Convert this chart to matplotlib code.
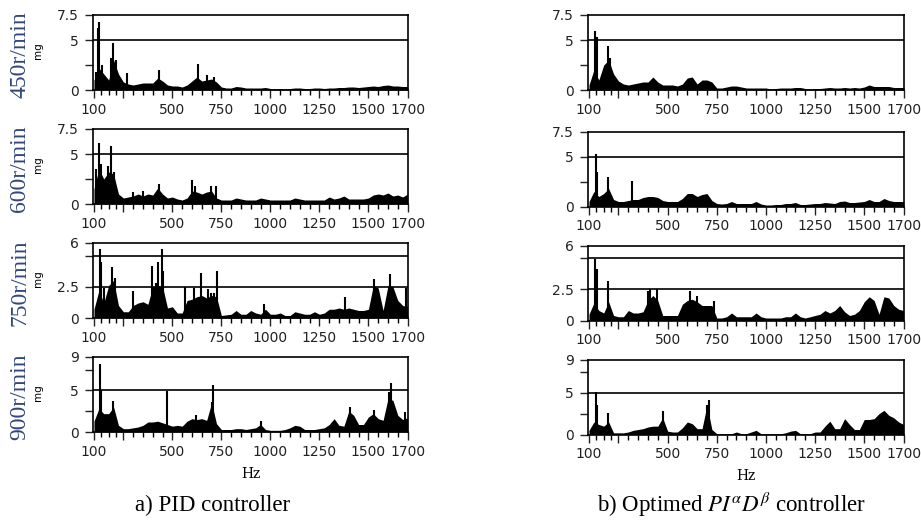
import numpy as np
import matplotlib
matplotlib.use("Agg")
import matplotlib.pyplot as plt

plt.rcParams["mathtext.fontset"] = "stix"
plt.rcParams["font.family"] = "DejaVu Sans"

# envelope of each spectrum, sampled every 25 Hz from 100 to 1700 Hz
freqs = np.arange(100, 1701, 25)

# a) PID controller
pid_450 = [1.0, 2.2, 1.6, 1.0, 3.0, 1.6, 0.8, 0.6, 0.5, 0.6, 0.7, 0.7, 0.7,
           1.2, 0.9, 0.5, 0.4, 0.4, 0.3, 0.5, 0.9, 1.3, 0.9, 1.0, 1.1, 0.8,
           0.3, 0.2, 0.2, 0.35, 0.3, 0.2, 0.2, 0.2, 0.2, 0.25, 0.15, 0.1, 0.15,
           0.1, 0.15, 0.2, 0.2, 0.15, 0.15, 0.2, 0.2, 0.15, 0.2, 0.2, 0.25, 0.25,
           0.3, 0.3, 0.25, 0.3, 0.35, 0.4, 0.35, 0.45, 0.5, 0.4, 0.4, 0.35, 0.35]
pid_450_spk_f = [112, 120, 128, 140, 185, 197, 210, 270, 433, 630, 678, 711]
pid_450_spk_v = [1.8, 6.2, 6.8, 2.5, 3.2, 4.7, 3.0, 1.7, 2.0, 2.6, 1.5, 1.3]

pid_600 = [1.5, 3.5, 2.5, 3.2, 3.0, 1.0, 0.6, 0.7, 0.8, 1.0, 0.8, 1.0, 0.9,
           1.6, 1.0, 0.6, 0.7, 0.5, 0.4, 0.6, 1.3, 1.2, 1.0, 1.2, 1.3, 0.6,
           0.4, 0.4, 0.4, 0.6, 0.5, 0.4, 0.4, 0.4, 0.6, 0.5, 0.4, 0.4, 0.4,
           0.4, 0.4, 0.6, 0.5, 0.4, 0.4, 0.4, 0.4, 0.4, 0.7, 0.5, 0.6, 0.8,
           0.5, 0.5, 0.5, 0.5, 0.6, 0.9, 1.0, 0.9, 1.1, 0.8, 0.9, 0.7, 1.0]
pid_600_spk_f = [110, 124, 135, 170, 185, 200, 300, 350, 434, 600, 615, 698, 720]
pid_600_spk_v = [3.5, 6.1, 4.0, 3.8, 5.8, 3.2, 1.2, 1.3, 2.0, 2.4, 1.8, 1.8, 1.8]

pid_750 = [0.7, 2.2, 1.2, 2.6, 3.0, 1.0, 0.5, 0.5, 1.0, 1.2, 1.3, 1.1, 2.5,
           2.6, 2.5, 0.8, 0.9, 0.4, 0.4, 1.4, 1.5, 1.7, 1.8, 1.6, 1.8, 1.7,
           0.2, 0.25, 0.3, 0.6, 0.3, 0.3, 0.6, 0.4, 0.3, 0.7, 0.3, 0.3, 0.4,
           0.2, 0.2, 0.5, 0.4, 0.3, 0.3, 0.5, 0.3, 0.4, 0.7, 0.7, 0.8, 0.7,
           0.8, 0.7, 0.6, 0.6, 0.7, 2.6, 2.4, 0.6, 2.6, 2.5, 1.4, 1.0, 0.9]
pid_750_spk_f = [131, 137, 151, 193, 205, 300, 397, 414, 428, 447, 453, 564,
                 610, 647, 681, 695, 712, 729, 967, 1383, 1530, 1610, 1694]
pid_750_spk_v = [5.5, 4.5, 2.4, 4.1, 3.2, 2.2, 4.2, 2.8, 4.5, 5.5, 3.8, 2.5,
                 2.4, 3.6, 2.3, 2.0, 2.0, 3.8, 1.1, 1.7, 3.1, 3.5, 2.4]

pid_900 = [1.3, 2.8, 2.2, 2.2, 3.0, 0.8, 0.4, 0.4, 0.5, 0.6, 0.8, 1.2, 1.2,
           1.3, 1.1, 0.9, 0.7, 0.8, 0.7, 1.3, 1.6, 1.5, 1.6, 1.4, 3.5, 1.0,
           0.3, 0.3, 0.3, 0.4, 0.4, 0.3, 0.4, 0.5, 0.9, 0.3, 0.2, 0.2, 0.2,
           0.3, 0.5, 0.8, 0.7, 0.3, 0.3, 0.3, 0.4, 0.5, 0.9, 1.6, 0.8, 0.7,
           2.5, 2.0, 0.9, 0.9, 1.8, 2.2, 1.6, 1.4, 4.0, 3.8, 2.0, 1.5, 1.7]
pid_900_spk_f = [131, 138, 197, 470, 618, 700, 705, 950, 1408, 1530, 1605, 1615, 1685]
pid_900_spk_v = [8.2, 5.0, 3.7, 4.9, 2.0, 3.6, 5.6, 1.3, 3.0, 2.6, 4.8, 5.9, 2.4]

# b) optimised fractional controller
opt_450 = [0.5, 2.0, 1.0, 2.5, 3.0, 1.6, 0.9, 0.6, 0.5, 0.6, 0.7, 0.8, 0.8,
           1.3, 0.8, 0.5, 0.5, 0.5, 0.4, 0.6, 1.2, 1.3, 0.6, 1.0, 1.0, 0.8,
           0.2, 0.2, 0.3, 0.4, 0.4, 0.3, 0.2, 0.2, 0.2, 0.2, 0.2, 0.1, 0.15,
           0.2, 0.2, 0.2, 0.25, 0.25, 0.15, 0.1, 0.15, 0.15, 0.2, 0.25, 0.2, 0.2,
           0.25, 0.2, 0.25, 0.2, 0.3, 0.5, 0.35, 0.35, 0.35, 0.35, 0.25, 0.25, 0.25]
opt_450_spk_f = [132, 139, 178, 196, 206]
opt_450_spk_v = [5.9, 5.3, 1.6, 4.4, 3.2]

opt_600 = [0.5, 1.5, 1.0, 1.3, 1.8, 0.7, 0.5, 0.5, 0.6, 0.7, 0.7, 0.9, 1.0,
           1.0, 0.9, 0.6, 0.5, 0.5, 0.5, 0.8, 1.3, 1.3, 1.0, 1.2, 1.3, 0.6,
           0.3, 0.25, 0.3, 0.5, 0.3, 0.3, 0.3, 0.3, 0.5, 0.25, 0.15, 0.15, 0.2,
           0.2, 0.3, 0.3, 0.4, 0.2, 0.2, 0.25, 0.3, 0.3, 0.4, 0.35, 0.3, 0.5,
           0.55, 0.4, 0.4, 0.45, 0.5, 0.7, 0.5, 0.5, 0.8, 0.6, 0.5, 0.5, 0.5]
opt_600_spk_f = [135, 142, 198, 318]
opt_600_spk_v = [5.3, 3.5, 3.0, 2.6]

opt_750 = [0.5, 1.4, 0.8, 0.6, 1.5, 0.4, 0.3, 0.3, 0.8, 0.6, 0.6, 0.7, 1.6,
           2.0, 1.6, 0.4, 0.4, 0.4, 0.4, 1.3, 1.6, 1.7, 1.5, 1.2, 1.2, 1.2,
           0.2, 0.2, 0.3, 0.6, 0.3, 0.3, 0.3, 0.3, 0.6, 0.3, 0.2, 0.2, 0.2,
           0.2, 0.3, 0.3, 0.6, 0.3, 0.2, 0.3, 0.4, 0.5, 0.8, 0.6, 0.8, 1.2,
           0.7, 0.4, 0.5, 0.8, 1.5, 1.9, 1.6, 0.5, 1.9, 1.8, 1.2, 0.9, 0.8]
opt_750_spk_f = [129, 139, 196, 399, 409, 448, 615, 649, 735]
opt_750_spk_v = [4.9, 4.1, 3.2, 2.4, 2.5, 2.5, 2.35, 1.95, 1.6]

opt_900 = [0.5, 1.5, 1.2, 1.0, 1.5, 0.2, 0.2, 0.2, 0.3, 0.5, 0.6, 0.7, 0.9,
           1.0, 1.0, 2.0, 0.4, 0.3, 0.3, 0.8, 1.5, 1.3, 0.7, 0.7, 3.5, 0.6,
           0.1, 0.1, 0.1, 0.1, 0.3, 0.1, 0.1, 0.3, 0.5, 0.1, 0.1, 0.1, 0.1,
           0.1, 0.2, 0.4, 0.5, 0.1, 0.1, 0.1, 0.3, 0.3, 1.0, 1.6, 0.7, 0.7,
           1.9, 1.2, 0.6, 0.6, 1.8, 1.8, 1.9, 2.5, 2.9, 2.3, 2.0, 1.5, 1.2]
opt_900_spk_f = [134, 140, 198, 476, 700, 711]
opt_900_spk_v = [5.1, 3.5, 2.6, 2.8, 3.5, 4.1]

speeds = ["450r/min", "600r/min", "750r/min", "900r/min"]
x_labels = ["100", "", "500", "750", "1000", "1250", "1500", "1700"]
x_major = [100, 250, 500, 750, 1000, 1250, 1500, 1700]

# per row: y max, labelled ticks, their text, minor ticks, horizontal lines
row_y = [
    (7.5, [0, 5, 7.5], ["0", "5", "7.5"], [2.5], [5]),
    (7.5, [0, 5, 7.5], ["0", "5", "7.5"], [2.5], [5]),
    (6, [0, 2.5, 6], ["0", "2.5", "6"], [5], [2.5, 5]),
    (9, [0, 5, 9], ["0", "5", "9"], [2.5, 7.5], [5]),
]

pid = [(pid_450, pid_450_spk_f, pid_450_spk_v), (pid_600, pid_600_spk_f, pid_600_spk_v),
       (pid_750, pid_750_spk_f, pid_750_spk_v), (pid_900, pid_900_spk_f, pid_900_spk_v)]
opt = [(opt_450, opt_450_spk_f, opt_450_spk_v), (opt_600, opt_600_spk_f, opt_600_spk_v),
       (opt_750, opt_750_spk_f, opt_750_spk_v), (opt_900, opt_900_spk_f, opt_900_spk_v)]

W, H = 921, 522
fig = plt.figure(figsize=(W / 100, H / 100), dpi=100)

x_minor = [137.5, 175, 212.5] + list(range(300, 1700, 50))


def panel(ax, env, spk_f, spk_v, ycfg, last):
    ymax, yt, ytl, ymin_t, lines = ycfg
    ax.fill_between(freqs, 0, env, color="black", lw=0)
    ax.vlines(spk_f, 0, spk_v, color="black", lw=1.5)
    for v in lines:
        ax.axhline(v, color="black", lw=1.2)
    ax.set_xlim(95, 1702)
    ax.set_ylim(0, ymax)
    ax.set_xticks(x_major)
    ax.set_xticklabels(x_labels)
    ax.set_xticks(x_minor, minor=True)
    ax.set_yticks(yt)
    ax.set_yticklabels(ytl)
    ax.set_yticks(ymin_t, minor=True)
    ax.tick_params(axis="x", which="major", length=6, width=1, pad=3, labelsize=10, colors="#222222")
    ax.tick_params(axis="x", which="minor", length=3.5, width=1)
    ax.tick_params(axis="y", which="both", length=6, width=1, pad=4, labelsize=10, colors="#222222")
    for s in ax.spines.values():
        s.set_linewidth(1.2)
    if last:
        ax.set_xlabel("Hz", family="DejaVu Serif", fontsize=10, labelpad=6)


for i in range(4):
    top = 15 + 114 * i
    axl = fig.add_axes([93 / W, 1 - (top + 75) / H, 315 / W, 75 / H])
    panel(axl, *pid[i], row_y[i], i == 3)
    axl.text(-0.175, 0.53, "mg", transform=axl.transAxes, rotation=90,
             fontsize=7.5, ha="center", va="center")
    fig.text(20 / W, 1 - (top + 40) / H, speeds[i], rotation=90, ha="center", va="center",
             family="Liberation Serif", fontsize=17, color="#33477e")

    shift = 0 if i == 0 else 2.5
    axr = fig.add_axes([588 / W, 1 - (top + shift + 75) / H, 316 / W, 75 / H])
    panel(axr, *opt[i], row_y[i], i == 3)

fig.text(213 / W, 1 - 505 / H, "a) PID controller", ha="center", va="center",
         family="Liberation Serif", fontsize=16.5)
fig.text(731 / W, 1 - 505 / H, r"b) Optimed $PI^{\alpha}D^{\beta}$ controller", ha="center",
         va="center", family="Liberation Serif", fontsize=16.5)

fig.savefig("out.png", dpi=100)
